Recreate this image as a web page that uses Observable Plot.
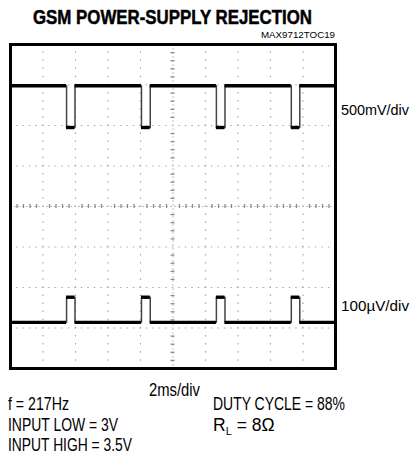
<!DOCTYPE html>
<html>
<head>
<meta charset="utf-8">
<script src="https://cdn.jsdelivr.net/npm/d3@7"></script>
<script src="https://cdn.jsdelivr.net/npm/@observablehq/plot@0.6"></script>
<style>
  html, body { margin: 0; padding: 0; background: #fff; }
  #chart { width: 413px; height: 454px; }
</style>
</head>
<body>
<div id="chart"></div>
<script>
// ---- data (time in ms, level in scope divisions) ----
const pulseStart = [3.45, 8.06, 12.67, 17.28];
const pulseEnd   = [3.97, 8.60, 13.20, 17.80];
const topHigh = 2.98, topLow = 1.95;      // 500mV/div trace
const botBase = -2.86, botPeak = -2.24;   // 100uV/div trace
const gridX = [2, 4, 6, 8, 12, 14, 16, 18];
const gridY = [-3, -2, -1, 1, 2, 3];
const xDomain = [0, 20], yDomain = [-4, 4];

function trace(base, pulse) {
  const pts = [{t: xDomain[0], v: base}];
  pulseStart.forEach((s, i) => {
    pts.push({t: s, v: base}, {t: s, v: pulse}, {t: pulseEnd[i], v: pulse}, {t: pulseEnd[i], v: base});
  });
  pts.push({t: xDomain[1], v: base});
  return pts;
}
function flats(base, pulse) {
  const segs = [];
  let prev = xDomain[0];
  pulseStart.forEach((s, i) => {
    segs.push({x1: prev, x2: s, y: base});
    segs.push({x1: s, x2: pulseEnd[i], y: pulse});
    prev = pulseEnd[i];
  });
  segs.push({x1: prev, x2: xDomain[1], y: base});
  return segs;
}
const topTrace = trace(topHigh, topLow);
const botTrace = trace(botBase, botPeak);
const flatSegs = flats(topHigh, topLow).concat(flats(botBase, botPeak));

const minorX = d3.range(0.4, 20, 0.4).filter(v => Math.abs(v % 2) > 0.01 && Math.abs(v % 2 - 2) > 0.01);
const minorY = d3.range(-3.8, 4, 0.2).filter(v => Math.abs(v - Math.round(v)) > 0.01);

const plot = Plot.plot({
  width: 413,
  height: 454,
  marginLeft: 10,
  marginRight: 78,
  marginTop: 44,
  marginBottom: 86,
  x: {domain: xDomain, axis: null},
  y: {domain: yDomain, axis: null},
  style: {background: "#fff"},
  marks: [
    Plot.ruleX(gridX, {stroke: "#a8a8a8", strokeWidth: 1.2, strokeDasharray: "1.5,6.6", strokeDashoffset: 0.7}),
    Plot.ruleY(gridY, {stroke: "#a8a8a8", strokeWidth: 1.2, strokeDasharray: "1.5,5", strokeDashoffset: 0.7}),
    Plot.ruleX([10], {stroke: "#c0c0c0", strokeWidth: 1, strokeDasharray: "2,2"}),
    Plot.ruleY([0], {stroke: "#c0c0c0", strokeWidth: 1, strokeDasharray: "2,2"}),
    Plot.ruleY(minorY, {y: d => d, x1: 9.88, x2: 10.12, stroke: "#8a8a8a", strokeWidth: 1.3}),
    Plot.ruleX(minorX, {x: d => d, y1: -0.05, y2: 0.05, stroke: "#8a8a8a", strokeWidth: 1.3}),
    Plot.line(topTrace, {x: "t", y: "v", stroke: "#444", strokeWidth: 1.5}),
    Plot.line(botTrace, {x: "t", y: "v", stroke: "#444", strokeWidth: 1.5}),
    Plot.ruleY(flatSegs, {x1: "x1", x2: "x2", y: "y", stroke: "#000", strokeWidth: 3.4}),
    Plot.frame({stroke: "#000", strokeWidth: 3})
  ]
});
document.getElementById("chart").appendChild(plot);

// ---- annotation text ----
const svg = d3.select(plot);
const FONT = "'Liberation Sans', Arial, sans-serif";
function label(x, y, txt, opts = {}) {
  const t = svg.append("text")
    .attr("x", x).attr("y", y)
    .attr("font-family", FONT)
    .attr("font-size", opts.size || 17.5)
    .attr("font-weight", opts.weight || "normal")
    .attr("text-anchor", opts.anchor || "start")
    .attr("fill", "#000")
    .text(txt);
  if (opts.len) t.attr("textLength", opts.len).attr("lengthAdjust", "spacingAndGlyphs");
  if (opts.heavy) t.attr("stroke", "#000").attr("stroke-width", opts.heavy);
  return t;
}
label(172.5, 24, "GSM POWER-SUPPLY REJECTION", {size: 21, weight: "bold", anchor: "middle", len: 279, heavy: 0.5});
label(335, 38, "MAX9712TOC19", {size: 9.5, anchor: "end", len: 74});
label(341, 115, "500mV/div", {size: 15, len: 68});
label(341, 311, "100\u00b5V/div", {size: 15.5, len: 68});
label(149, 396, "2ms/div", {size: 17.5, len: 51});
label(8, 410, "f = 217Hz", {size: 17.5, len: 61});
label(8, 431, "INPUT LOW = 3V", {size: 17.5, len: 110});
label(8, 451, "INPUT HIGH = 3.5V", {size: 17.5, len: 124});
label(213, 410, "DUTY CYCLE = 88%", {size: 17.5, len: 132});
const rl = svg.append("text").attr("x", 213).attr("y", 431)
  .attr("font-family", FONT).attr("font-size", 17.5).attr("fill", "#000")
  .attr("text-anchor", "start");
rl.append("tspan").text("R");
rl.append("tspan").attr("font-size", 11).attr("dy", 4).text("L");
rl.append("tspan").attr("dy", -4).text(" = 8\u03a9");
</script>
</body>
</html>
